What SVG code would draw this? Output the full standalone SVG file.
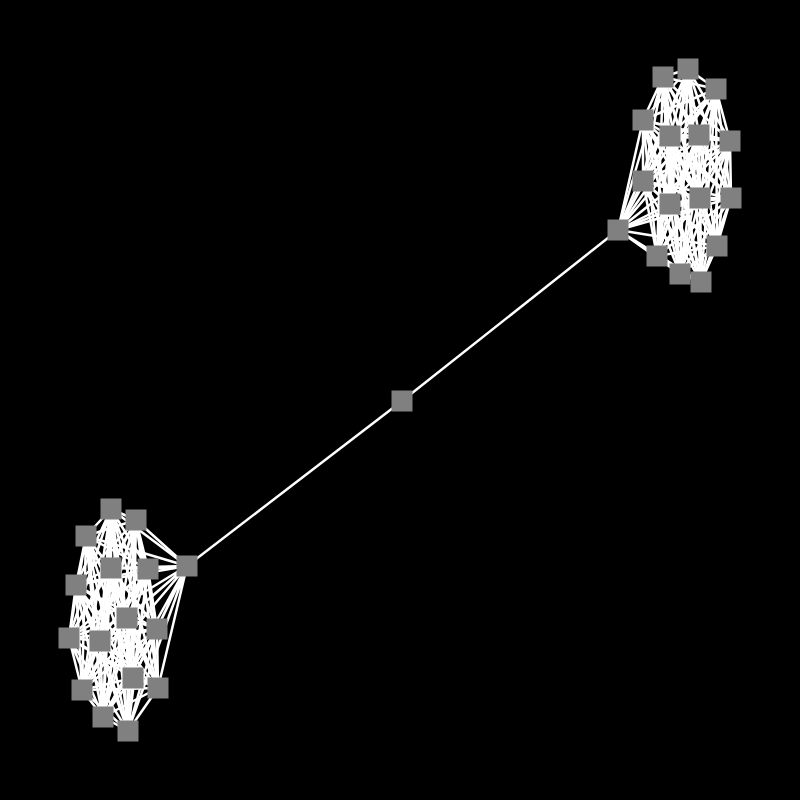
<svg xmlns="http://www.w3.org/2000/svg" width="800" height="800" viewBox="0 0 800 800">
<style>
.e{stroke:#ffffff;stroke-width:2.5;fill:none}
.n{fill:#808080}
</style>
<rect x="0" y="0" width="800" height="800" fill="#000000"/>
<g id="connectors">
<path class="e" d="M663 77L688 69M663 77L716 89M663 77L643 120M663 77L670 136M663 77L699 135M663 77L730 141M663 77L643 181M663 77L670 204M663 77L700 198M663 77L731 198M663 77L618 230M663 77L657 256M663 77L717 246M663 77L680 274M663 77L701 282"/>
<path class="e" d="M688 69L716 89M688 69L643 120M688 69L670 136M688 69L699 135M688 69L730 141M688 69L643 181M688 69L670 204M688 69L700 198M688 69L731 198M688 69L618 230M688 69L657 256M688 69L717 246M688 69L680 274M688 69L701 282"/>
<path class="e" d="M716 89L643 120M716 89L670 136M716 89L699 135M716 89L730 141M716 89L643 181M716 89L670 204M716 89L700 198M716 89L731 198M716 89L618 230M716 89L657 256M716 89L717 246M716 89L680 274M716 89L701 282"/>
<path class="e" d="M643 120L670 136M643 120L699 135M643 120L730 141M643 120L643 181M643 120L670 204M643 120L700 198M643 120L731 198M643 120L618 230M643 120L657 256M643 120L717 246M643 120L680 274M643 120L701 282"/>
<path class="e" d="M670 136L699 135M670 136L730 141M670 136L643 181M670 136L670 204M670 136L700 198M670 136L731 198M670 136L618 230M670 136L657 256M670 136L717 246M670 136L680 274M670 136L701 282"/>
<path class="e" d="M699 135L730 141M699 135L643 181M699 135L670 204M699 135L700 198M699 135L731 198M699 135L618 230M699 135L657 256M699 135L717 246M699 135L680 274M699 135L701 282"/>
<path class="e" d="M730 141L643 181M730 141L670 204M730 141L700 198M730 141L731 198M730 141L618 230M730 141L657 256M730 141L717 246M730 141L680 274M730 141L701 282"/>
<path class="e" d="M643 181L670 204M643 181L700 198M643 181L731 198M643 181L618 230M643 181L657 256M643 181L717 246M643 181L680 274M643 181L701 282"/>
<path class="e" d="M670 204L700 198M670 204L731 198M670 204L618 230M670 204L657 256M670 204L717 246M670 204L680 274M670 204L701 282"/>
<path class="e" d="M700 198L731 198M700 198L618 230M700 198L657 256M700 198L717 246M700 198L680 274M700 198L701 282"/>
<path class="e" d="M731 198L618 230M731 198L657 256M731 198L717 246M731 198L680 274M731 198L701 282"/>
<path class="e" d="M618 230L657 256M618 230L717 246M618 230L680 274M618 230L701 282"/>
<path class="e" d="M657 256L717 246M657 256L680 274M657 256L701 282"/>
<path class="e" d="M717 246L680 274M717 246L701 282"/>
<path class="e" d="M680 274L701 282"/>
<path class="e" d="M111 509L136 520M111 509L86 536M111 509L111 568M111 509L148 569M111 509L187 566M111 509L76 585M111 509L127 618M111 509L157 629M111 509L69 638M111 509L100 641M111 509L133 678M111 509L158 688M111 509L82 690M111 509L103 717M111 509L128 731"/>
<path class="e" d="M136 520L86 536M136 520L111 568M136 520L148 569M136 520L187 566M136 520L76 585M136 520L127 618M136 520L157 629M136 520L69 638M136 520L100 641M136 520L133 678M136 520L158 688M136 520L82 690M136 520L103 717M136 520L128 731"/>
<path class="e" d="M86 536L111 568M86 536L148 569M86 536L187 566M86 536L76 585M86 536L127 618M86 536L157 629M86 536L69 638M86 536L100 641M86 536L133 678M86 536L158 688M86 536L82 690M86 536L103 717M86 536L128 731"/>
<path class="e" d="M111 568L148 569M111 568L187 566M111 568L76 585M111 568L127 618M111 568L157 629M111 568L69 638M111 568L100 641M111 568L133 678M111 568L158 688M111 568L82 690M111 568L103 717M111 568L128 731"/>
<path class="e" d="M148 569L187 566M148 569L76 585M148 569L127 618M148 569L157 629M148 569L69 638M148 569L100 641M148 569L133 678M148 569L158 688M148 569L82 690M148 569L103 717M148 569L128 731"/>
<path class="e" d="M187 566L76 585M187 566L127 618M187 566L157 629M187 566L69 638M187 566L100 641M187 566L133 678M187 566L158 688M187 566L82 690M187 566L103 717M187 566L128 731"/>
<path class="e" d="M76 585L127 618M76 585L157 629M76 585L69 638M76 585L100 641M76 585L133 678M76 585L158 688M76 585L82 690M76 585L103 717M76 585L128 731"/>
<path class="e" d="M127 618L157 629M127 618L69 638M127 618L100 641M127 618L133 678M127 618L158 688M127 618L82 690M127 618L103 717M127 618L128 731"/>
<path class="e" d="M157 629L69 638M157 629L100 641M157 629L133 678M157 629L158 688M157 629L82 690M157 629L103 717M157 629L128 731"/>
<path class="e" d="M69 638L100 641M69 638L133 678M69 638L158 688M69 638L82 690M69 638L103 717M69 638L128 731"/>
<path class="e" d="M100 641L133 678M100 641L158 688M100 641L82 690M100 641L103 717M100 641L128 731"/>
<path class="e" d="M133 678L158 688M133 678L82 690M133 678L103 717M133 678L128 731"/>
<path class="e" d="M158 688L82 690M158 688L103 717M158 688L128 731"/>
<path class="e" d="M82 690L103 717M82 690L128 731"/>
<path class="e" d="M103 717L128 731"/>
<path class="e" d="M402 401L618 230"/>
<path class="e" d="M402 401L187 566"/>
</g>
<g id="T1"><rect class="n" x="652.5" y="66.5" width="21" height="21"/></g>
<g id="T2"><rect class="n" x="677.5" y="58.5" width="21" height="21"/></g>
<g id="T3"><rect class="n" x="705.5" y="78.5" width="21" height="21"/></g>
<g id="T4"><rect class="n" x="632.5" y="109.5" width="21" height="21"/></g>
<g id="T5"><rect class="n" x="659.5" y="125.5" width="21" height="21"/></g>
<g id="T6"><rect class="n" x="688.5" y="124.5" width="21" height="21"/></g>
<g id="T7"><rect class="n" x="719.5" y="130.5" width="21" height="21"/></g>
<g id="T8"><rect class="n" x="632.5" y="170.5" width="21" height="21"/></g>
<g id="T9"><rect class="n" x="659.5" y="193.5" width="21" height="21"/></g>
<g id="T10"><rect class="n" x="689.5" y="187.5" width="21" height="21"/></g>
<g id="T11"><rect class="n" x="720.5" y="187.5" width="21" height="21"/></g>
<g id="T12"><rect class="n" x="607.5" y="219.5" width="21" height="21"/></g>
<g id="T13"><rect class="n" x="646.5" y="245.5" width="21" height="21"/></g>
<g id="T14"><rect class="n" x="706.5" y="235.5" width="21" height="21"/></g>
<g id="T15"><rect class="n" x="669.5" y="263.5" width="21" height="21"/></g>
<g id="T16"><rect class="n" x="690.5" y="271.5" width="21" height="21"/></g>
<g id="M"><rect class="n" x="391.5" y="390.5" width="21" height="21"/></g>
<g id="B1"><rect class="n" x="100.5" y="498.5" width="21" height="21"/></g>
<g id="B2"><rect class="n" x="125.5" y="509.5" width="21" height="21"/></g>
<g id="B3"><rect class="n" x="75.5" y="525.5" width="21" height="21"/></g>
<g id="B4"><rect class="n" x="100.5" y="557.5" width="21" height="21"/></g>
<g id="B5"><rect class="n" x="137.5" y="558.5" width="21" height="21"/></g>
<g id="B6"><rect class="n" x="176.5" y="555.5" width="21" height="21"/></g>
<g id="B7"><rect class="n" x="65.5" y="574.5" width="21" height="21"/></g>
<g id="B8"><rect class="n" x="116.5" y="607.5" width="21" height="21"/></g>
<g id="B9"><rect class="n" x="146.5" y="618.5" width="21" height="21"/></g>
<g id="B10"><rect class="n" x="58.5" y="627.5" width="21" height="21"/></g>
<g id="B11"><rect class="n" x="89.5" y="630.5" width="21" height="21"/></g>
<g id="B12"><rect class="n" x="122.5" y="667.5" width="21" height="21"/></g>
<g id="B13"><rect class="n" x="147.5" y="677.5" width="21" height="21"/></g>
<g id="B14"><rect class="n" x="71.5" y="679.5" width="21" height="21"/></g>
<g id="B15"><rect class="n" x="92.5" y="706.5" width="21" height="21"/></g>
<g id="B16"><rect class="n" x="117.5" y="720.5" width="21" height="21"/></g>
</svg>
